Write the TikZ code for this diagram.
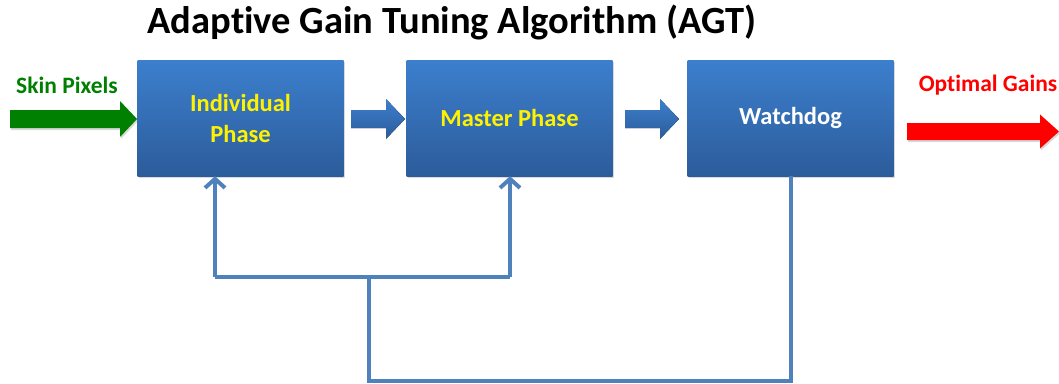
\documentclass[tikz,border=0pt]{standalone}
\usepackage{fontspec}
\setmainfont{Carlito}[Ligatures=NoCommon]
\usetikzlibrary{shadows,arrows.meta}
\definecolor{boxtop}{RGB}{60,127,205}
\definecolor{boxbot}{RGB}{44,92,155}
\definecolor{linkblue}{RGB}{79,129,189}
\definecolor{skingreen}{RGB}{0,128,0}
\definecolor{gainred}{RGB}{255,0,0}
% block arrow: x-start, x-head-base, x-tip, y-centre, half body, half head
\newcommand{\blockarrow}[7][]{%
  \fill[#1] (#2,#5-#6) -- (#3,#5-#6) -- (#3,#5-#7) -- (#4,#5)
    -- (#3,#5+#7) -- (#3,#5+#6) -- (#2,#5+#6) -- cycle;}
\begin{document}
\begin{tikzpicture}[x=1pt,y=-1pt,
  stage/.style={minimum width=206pt, minimum height=116pt, inner sep=0pt,
    top color=boxtop, bottom color=boxbot, draw=none, align=center,
    drop shadow={shadow xshift=1pt, shadow yshift=-2pt, opacity=0.3},
    font=\bfseries\fontsize{24.5}{31}\selectfont},
  feedback/.style={draw=linkblue, line width=4pt},
  up/.style={feedback, -{Straight Barb[length=9pt,width=20pt]}},
  label/.style={font=\bfseries\fontsize{23.5}{26}\selectfont, inner sep=0pt}]
\useasboundingbox (0,0) rectangle (1059,383);

\node[font=\bfseries\fontsize{38.5}{42}\selectfont, inner sep=0pt] (title) at (452,22)
  {Adaptive Gain Tuning Algorithm (AGT)};

\node[stage, text=yellow] (ind) at (240.5,118) {Individual\\Phase};
\node[stage, text=yellow] (mas) at (509.5,118) {Master Phase};
\node[stage, text=white]  (wd)  at (790.5,118) {Watchdog};

\node[label, text=skingreen] (skin) at (67,85) {Skin Pixels};
\node[label, text=gainred] (gains) at (988,85) {Optimal Gains};

% input, output and stage-to-stage block arrows
\blockarrow[skingreen, drop shadow={shadow xshift=1pt, shadow yshift=-2pt, opacity=0.3}]{10}{120}{137}{119}{9}{18}
\blockarrow[top color=boxtop, bottom color=boxbot]{351}{386}{405}{119}{9}{20}
\blockarrow[top color=boxtop, bottom color=boxbot]{625}{660}{679}{119}{9}{20}
\blockarrow[gainred, drop shadow={shadow xshift=1pt, shadow yshift=-2pt, opacity=0.3}]{907}{1040}{1059}{131.5}{8.5}{17}

% feedback from the watchdog to both phases
\coordinate (fbL) at (215,277);
\coordinate (fbR) at (510,277);
\coordinate (fbJ) at (369,277);
\coordinate (fbB) at (369,381);
\draw[feedback] (wd.south) -- (wd.south |- fbB) -- (fbB) -- (fbJ);
\draw[feedback] (fbL) -- (fbR);
\draw[up] (fbL) -- (fbL |- ind.south);
\draw[up] (fbR) -- (fbR |- mas.south);
\end{tikzpicture}
\end{document}
